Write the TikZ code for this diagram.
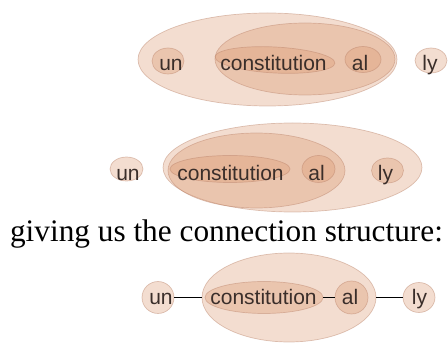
\documentclass[tikz,border=0pt]{standalone}
\usepackage{fontspec}
\setmainfont{Liberation Serif}
\newfontfamily\labelfont{Liberation Sans}
\usetikzlibrary{shapes.geometric}
\definecolor{peach}{RGB}{215,142,98}
\definecolor{rim}{RGB}{185,130,105}
\definecolor{ink}{RGB}{58,46,42}
\tikzset{
  blob/.style={ellipse, inner sep=0pt, outer sep=0pt, fill=peach, fill opacity=0.3,
    draw=rim, draw opacity=0.45, line width=0.7pt},
  morph/.style={font=\labelfont\fontsize{21}{21}\selectfont, text=ink, inner sep=0pt, anchor=base},
  link/.style={draw=black, line width=1.1pt},
}
\begin{document}
\begin{tikzpicture}[x=1pt,y=1pt]
\useasboundingbox (0,0) rectangle (448,343);
% ---- top row
\node[blob, minimum width=259, minimum height=93] (t-all) at (267.5,283.5) {};
\node[blob, minimum width=180, minimum height=72] (t-inner) at (305,284) {};
\node[blob, minimum width=120, minimum height=26, rotate=-3] (t-consE) at (275,283) {};
\node[blob, minimum width=32, minimum height=26] (t-unE) at (168,282) {};
\node[blob, minimum width=36, minimum height=26] (t-alE) at (363,283.5) {};
\node[blob, minimum width=32, minimum height=25] (t-lyE) at (431,282.5) {};
\node[morph] (t-un) at (171,272) {un};
\node[morph] (t-cons) at (273.5,272) {constitution};
\node[morph] (t-al) at (360,272) {al};
\node[morph] (t-ly) at (430,272) {ly};
% ---- middle row
\node[blob, minimum width=259, minimum height=89] (m-all) at (292.5,175.5) {};
\node[blob, minimum width=177, minimum height=75] (m-inner) at (256.5,172.5) {};
\node[blob, minimum width=120, minimum height=27] (m-consE) at (230,174) {};
\node[blob, minimum width=33, minimum height=24] (m-unE) at (126.5,174) {};
\node[blob, minimum width=33, minimum height=27] (m-alE) at (318.5,174) {};
\node[blob, minimum width=32, minimum height=25] (m-lyE) at (387.5,172.5) {};
\node[morph] (m-un) at (128,162) {un};
\node[morph] (m-cons) at (230.5,162) {constitution};
\node[morph] (m-al) at (316.5,162) {al};
\node[morph] (m-ly) at (385.5,162) {ly};
% ---- caption
\node[font=\fontsize{31.3}{31.3}\selectfont, anchor=base, inner sep=0pt] (caption) at (226.5,101) {giving us the connection structure:};
% ---- bottom row
\node[blob, minimum width=174, minimum height=89] (b-all) at (289,45.5) {};
\node[blob, minimum width=118, minimum height=32] (b-consE) at (264,45.5) {};
\node[blob, minimum width=32, minimum height=32] (b-unE) at (158,45.5) {};
\node[blob, minimum width=33, minimum height=33] (b-alE) at (351.5,45.5) {};
\node[blob, minimum width=32, minimum height=30] (b-lyE) at (419,45.5) {};
\node[morph] (b-un) at (161,38) {un};
\node[morph] (b-cons) at (263.5,38) {constitution};
\node[morph] (b-al) at (350,38) {al};
\node[morph] (b-ly) at (419.5,38) {ly};
\draw[link] (b-unE) -- (b-all);
\draw[link] (b-consE) -- (b-alE);
\draw[link] (b-all) -- (b-lyE);
\end{tikzpicture}
\end{document}
